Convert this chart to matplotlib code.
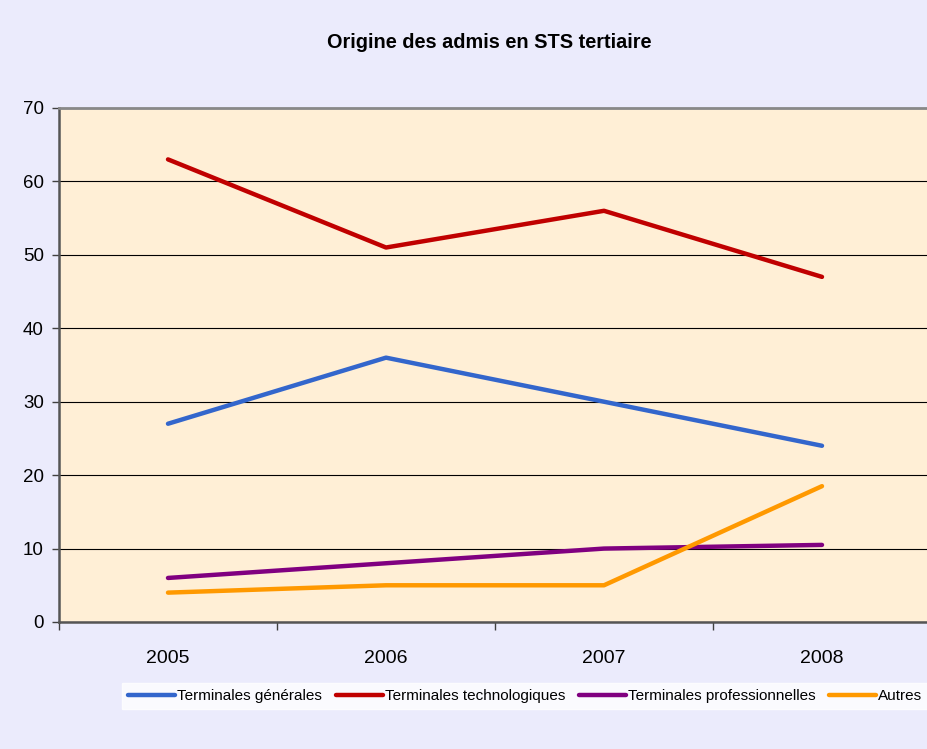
import numpy as np
import matplotlib.pyplot as plt

plt.rcParams['font.family'] = ['Liberation Sans', 'DejaVu Sans']

annees = ['2005', '2006', '2007', '2008']
generales = [27, 36, 30, 24]
technologiques = [63, 51, 56, 47]
professionnelles = [6, 8, 10, 10.5]
autres = [4, 5, 5, 18.5]

fig = plt.figure(figsize=(9.28, 7.49), dpi=100, facecolor='#EBEBFC')
ax = fig.add_axes([59 / 928, 127 / 749, 872 / 928, 514 / 749])
ax.set_facecolor('#FFEFD6')

x = np.arange(len(annees))
series = [
    (generales, '#3366CC', 'Terminales générales'),
    (technologiques, '#C00000', 'Terminales technologiques'),
    (professionnelles, '#800080', 'Terminales professionnelles'),
    (autres, '#FF9900', 'Autres'),
]
for vals, col, lab in series:
    ax.plot(x, vals, color=col, lw=3.2, solid_capstyle='round', label=lab, zorder=3)

ax.set_xlim(-0.5, 3.5)
ax.set_ylim(0, 70)
ax.set_yticks(range(0, 71, 10))
ax.set_xticks(np.arange(-0.5, 3.6, 1.0))
ax.set_xticklabels([])
ax.set_xticks(x, minor=True)
ax.set_xticklabels(annees, minor=True)
ax.tick_params(axis='x', which='minor', length=0, pad=20, labelsize=14)
ax.tick_params(axis='x', which='major', length=6, width=1, color='#404040', direction='out')
ax.tick_params(axis='y', length=5, width=1, color='#404040', labelsize=13.5, pad=6)

ax.grid(axis='y', color='black', lw=0.8, zorder=1)
for s in ['left', 'bottom']:
    ax.spines[s].set_color('#555555')
    ax.spines[s].set_linewidth(1.8)
ax.spines['top'].set_color('#888888')
ax.spines['top'].set_linewidth(2)
ax.spines['right'].set_visible(False)

fig.text(489.5 / 928, 1 - 42 / 749, 'Origine des admis en STS tertiaire', ha='center', va='center',
         fontsize=14.3, fontweight='bold')

leg = fig.legend(loc='center left', bbox_to_anchor=(122 / 928, 1 - 696 / 749), ncol=4,
                 fontsize=11, frameon=True, fancybox=False, handlelength=3.1,
                 handletextpad=0.1, columnspacing=0.9, borderpad=0.4, borderaxespad=0)
leg.get_frame().set_facecolor('white')
leg.get_frame().set_edgecolor('white')

plt.savefig('out.png', dpi=100, facecolor=fig.get_facecolor())
